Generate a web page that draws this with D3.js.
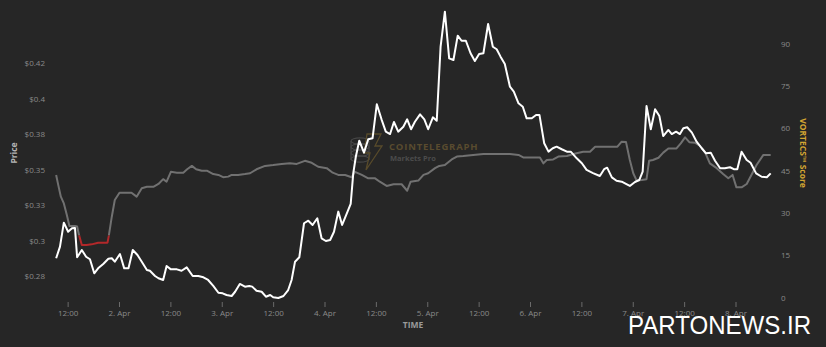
<!DOCTYPE html>
<html><head><meta charset="utf-8">
<script src="https://cdn.jsdelivr.net/npm/d3@7"></script>
<style>html,body{margin:0;padding:0;background:#262626;}svg{display:block;}</style>
</head><body><svg id="c" width="826" height="347"></svg>
<script>
// hours since 1 Apr 00:00
const priceHours = [9.2,10.1,11.0,12.0,12.9,13.6,14.1,15.2,16.2,17.1,18.1,19.0,20.2,21.4,22.2,22.9,24.1,25.1,26.1,27.1,28.2,29.2,30.4,31.1,32.3,33.1,34.2,35.0,36.0,37.4,38.5,39.7,41.1,42.4,43.6,44.7,45.9,47.1,48.1,49.0,50.2,51.0,52.1,53.3,54.3,55.0,56.0,57.2,58.2,59.2,59.9,61.1,62.3,63.4,64.2,65.0,66.0,67.1,68.1,69.1,70.2,71.2,72.2,73.2,74.1,75.1,76.0,77.1,78.0,78.6,79.2,80.0,81.1,82.1,83.1,84.1,85.2,86.2,87.2,88.1,89.1,90.3,91.2,92.1,93.0,94.2,95.2,96.1,97.2,98.1,99.0,100.0,101.0,102.0,103.0,103.9,104.9,106.0,107.0,108.0,109.0,110.1,111.2,112.1,113.0,114.0,115.2,116.1,117.2,118.2,119.1,120.3,121.3,122.1,123.2,124.2,125.2,126.1,127.3,128.5,129.4,130.8,132.0,133.1,134.6,136.2,137.2,137.9,139.0,140.1,141.3,142.3,143.2,144.4,145.4,146.2,147.1,148.1,149.1,150.1,151.0,152.2,153.0,154.0,154.9,155.7,156.6,157.7,158.8,160.0,161.0,162.1,163.1,164.3,165.4,166.6,167.5,168.3,169.3,170.5,171.4,172.7,174.0,175.2,176.1];
const priceValues = [0.2876,0.2958,0.3127,0.3063,0.3087,0.3090,0.2883,0.2934,0.2887,0.2869,0.2770,0.2805,0.2836,0.2873,0.2876,0.2852,0.2906,0.2805,0.2805,0.2934,0.2899,0.2852,0.2793,0.2788,0.2751,0.2735,0.2723,0.2822,0.2798,0.2798,0.2788,0.2812,0.2751,0.2751,0.2742,0.2723,0.2681,0.2633,0.2629,0.2617,0.2610,0.2640,0.2695,0.2676,0.2681,0.2676,0.2647,0.2640,0.2605,0.2617,0.2601,0.2596,0.2610,0.2652,0.2723,0.2852,0.2883,0.3123,0.3141,0.3111,0.3158,0.3017,0.2998,0.3005,0.3063,0.3205,0.3111,0.3193,0.3259,0.3475,0.3592,0.3705,0.3621,0.3715,0.3722,0.3962,0.3856,0.3769,0.3752,0.3837,0.3769,0.3804,0.3856,0.3786,0.3839,0.3891,0.3856,0.3786,0.3870,0.3846,0.4368,0.4615,0.4286,0.4274,0.4446,0.4410,0.4410,0.4322,0.4267,0.4317,0.4322,0.4528,0.4368,0.4350,0.4298,0.4246,0.4086,0.4051,0.3969,0.3945,0.3863,0.3863,0.3886,0.3886,0.3687,0.3628,0.3652,0.3663,0.3645,0.3628,0.3628,0.3581,0.3546,0.3499,0.3477,0.3456,0.3504,0.3515,0.3447,0.3423,0.3416,0.3400,0.3386,0.3414,0.3428,0.3487,0.3950,0.3786,0.3927,0.3879,0.3738,0.3781,0.3752,0.3769,0.3752,0.3793,0.3800,0.3762,0.3698,0.3652,0.3616,0.3621,0.3564,0.3511,0.3511,0.3518,0.3504,0.3504,0.3628,0.3569,0.3550,0.3475,0.3451,0.3447,0.3475];
const vortecsHours = [9.2,9.7,10.3,11.0,11.7,12.3,13.6,14.1,14.6,15.2,16.3,17.5,19.0,20.2,21.2,21.5,22.2,22.9,24.0,25.3,26.8,28.0,29.2,30.4,31.9,33.1,34.2,35.0,36.0,37.4,38.9,39.8,40.9,41.9,43.2,44.4,45.9,47.1,48.2,49.4,50.2,51.7,53.3,54.5,56.0,58.0,59.9,61.9,63.8,65.4,67.3,68.9,70.4,72.4,73.8,75.1,76.7,78.2,79.0,80.6,82.1,83.7,84.8,86.4,88.0,89.9,91.2,92.0,93.8,95.0,96.1,97.7,98.7,100.0,101.6,102.8,104.3,106.6,109.0,112.1,115.2,117.2,118.3,122.2,123.0,123.8,125.3,126.5,128.5,130.0,132.3,133.9,135.1,138.6,140.3,141.3,142.3,143.2,144.0,144.8,146.0,147.1,147.7,148.6,149.9,151.0,152.2,154.1,155.1,156.1,157.1,158.4,159.6,160.8,161.9,163.5,165.0,166.2,167.2,168.1,169.3,170.5,171.6,172.8,174.4,176.1];
const vortecsValues = [43.5,39.9,35.8,33.4,29.3,25.4,25.4,25.2,21.9,18.7,18.7,18.9,19.5,19.5,19.5,21.9,28.7,34.6,37.2,37.2,37.2,35.8,38.8,39.3,39.3,40.3,42.0,41.1,44.6,44.3,44.3,45.5,46.7,45.5,45.0,45.0,43.8,43.5,42.7,42.9,43.5,43.5,43.8,44.1,45.5,46.7,47.0,47.4,47.6,47.4,48.5,47.8,46.4,45.9,44.3,43.5,43.5,42.7,44.6,43.5,42.3,42.3,41.1,39.6,40.2,40.2,37.9,41.1,41.5,43.5,44.1,45.9,46.7,47.0,49.0,50.0,50.2,50.6,50.9,50.9,50.9,50.6,49.7,49.7,47.6,48.8,49.0,50.0,50.2,50.9,51.7,51.7,53.5,53.5,53.5,55.3,55.2,48.8,44.1,41.5,41.7,42.0,48.5,48.8,49.6,51.4,52.9,52.9,54.7,56.8,55.1,54.9,53.8,51.4,47.6,45.9,43.8,42.3,43.5,39.1,39.1,40.3,43.5,47.0,50.6,50.6];
const lowThreshold = 22;

const timeTicks = [12,24,36,48,60,72,84,96,108,120,132,144,156,168];
const timeTickLabels = ["12:00","2. Apr","12:00","3. Apr","12:00","4. Apr","12:00","5. Apr","12:00","6. Apr","12:00","7. Apr","12:00","8. Apr"];
const priceTicks = [0.275,0.3,0.325,0.35,0.375,0.4,0.425];
const priceTickLabels = ["$0.28","$0.3","$0.33","$0.35","$0.38","$0.4","$0.42"];
const vortecsTicks = [0,15,30,45,60,75,90];

const svg = d3.select("#c");
const W = 826, H = 347;
svg.append("rect").attr("width",W).attr("height",H).attr("fill","#262626");

const x = d3.scaleLinear().domain([24,168]).range([119.5,736]);
const yP = d3.scaleLinear().domain([0.3,0.4]).range([240.7,98.9]);
const yV = d3.scaleLinear().domain([0,90]).range([297.7,43.7]);
const font = "'Open Sans', sans-serif";

// watermark
const wm = svg.append("g").attr("opacity",0.9);
const coin = wm.append("g").attr("fill","none").attr("stroke","#4a4a4a").attr("stroke-width",1.2);
[0,1,2,3].forEach(i=>{
  coin.append("ellipse").attr("cx",360).attr("cy",141+i*6).attr("rx",9).attr("ry",3.2);
});
coin.append("line").attr("x1",351).attr("y1",141).attr("x2",351).attr("y2",160);
coin.append("line").attr("x1",369).attr("y1",141).attr("x2",369).attr("y2",160);
wm.append("path").attr("d","M367,134 L381,134 L375,146 L382,146 L366,170 L370,153 L364,153 Z")
  .attr("fill","none").attr("stroke","#5e4f2c").attr("stroke-width",1.3);
wm.append("text").attr("x",389).attr("y",149.5).text("COINTELEGRAPH")
  .attr("font-family",font).attr("font-weight",700).attr("font-size",9.5)
  .attr("letter-spacing",0.8).attr("fill","#5f5030");
wm.append("text").attr("x",390).attr("y",160.5).text("Markets Pro")
  .attr("font-family",font).attr("font-weight",700).attr("font-size",7.5).attr("fill","#505050");

// x axis
const xg = svg.append("g");
timeTicks.forEach((t,i)=>{
  xg.append("line").attr("x1",x(t)).attr("x2",x(t)).attr("y1",302).attr("y2",307)
    .attr("stroke","#6a6a6a").attr("stroke-width",1);
  xg.append("text").attr("x",x(t)).attr("y",316).attr("text-anchor","middle")
    .attr("font-family",font).attr("font-size",8).attr("fill","#8a8a8a").text(timeTickLabels[i]);
});
svg.append("text").attr("x",413).attr("y",328).attr("text-anchor","middle")
  .attr("font-family",font).attr("font-weight",700).attr("font-size",8.5).attr("fill","#9a9a9a").text("TIME");

// left axis
priceTicks.forEach((v,i)=>{
  svg.append("text").attr("x",45).attr("y",yP(v)).attr("dy","0.35em").attr("text-anchor","end")
    .attr("font-family",font).attr("font-size",8).attr("fill","#8a8a8a").text(priceTickLabels[i]);
});
svg.append("text").attr("transform","translate(14,153) rotate(-90)").attr("text-anchor","middle")
  .attr("dy","0.35em").attr("font-family",font).attr("font-weight",700).attr("font-size",8.5)
  .attr("fill","#b5b5b5").text("Price");

// right axis
vortecsTicks.forEach(v=>{
  svg.append("text").attr("x",781).attr("y",yV(v)).attr("dy","0.35em").attr("text-anchor","start")
    .attr("font-family",font).attr("font-size",8).attr("fill","#8a8a8a").text(v);
});
svg.append("text").attr("transform","translate(803,153) rotate(90)").attr("text-anchor","middle")
  .attr("dy","0.35em").attr("font-family",font).attr("font-weight",700).attr("font-size",8.5)
  .attr("fill","#d3a532").text("VORTECS™ Score");

// clip paths for zones
const defs = svg.append("defs");
const thY = yV(lowThreshold);
defs.append("clipPath").attr("id","above").append("rect").attr("x",0).attr("y",0).attr("width",W).attr("height",thY);
defs.append("clipPath").attr("id","below").append("rect").attr("x",0).attr("y",thY).attr("width",W).attr("height",H-thY);

const vData = vortecsHours.map((h,i)=>[h,vortecsValues[i]]);
const vLine = d3.line().x(d=>x(d[0])).y(d=>yV(d[1]));
svg.append("path").datum(vData).attr("d",vLine).attr("fill","none").attr("stroke","#717171")
  .attr("stroke-width",2).attr("stroke-linejoin","round").attr("clip-path","url(#above)");
svg.append("path").datum(vData).attr("d",vLine).attr("fill","none").attr("stroke","#b3282a")
  .attr("stroke-width",2).attr("stroke-linejoin","round").attr("clip-path","url(#below)");

const pData = priceHours.map((h,i)=>[h,priceValues[i]]);
const pLine = d3.line().x(d=>x(d[0])).y(d=>yP(d[1]));
svg.append("path").datum(pData).attr("d",pLine).attr("fill","none").attr("stroke","#ffffff")
  .attr("stroke-width",2).attr("stroke-linejoin","round");

// site watermark
svg.append("text").attr("x",628).attr("y",334).attr("font-family","'Liberation Sans', Arial, sans-serif")
  .attr("font-size",25).attr("fill","#ffffff").attr("textLength",183).attr("lengthAdjust","spacingAndGlyphs")
  .text("PARTONEWS.IR");
</script></body></html>
